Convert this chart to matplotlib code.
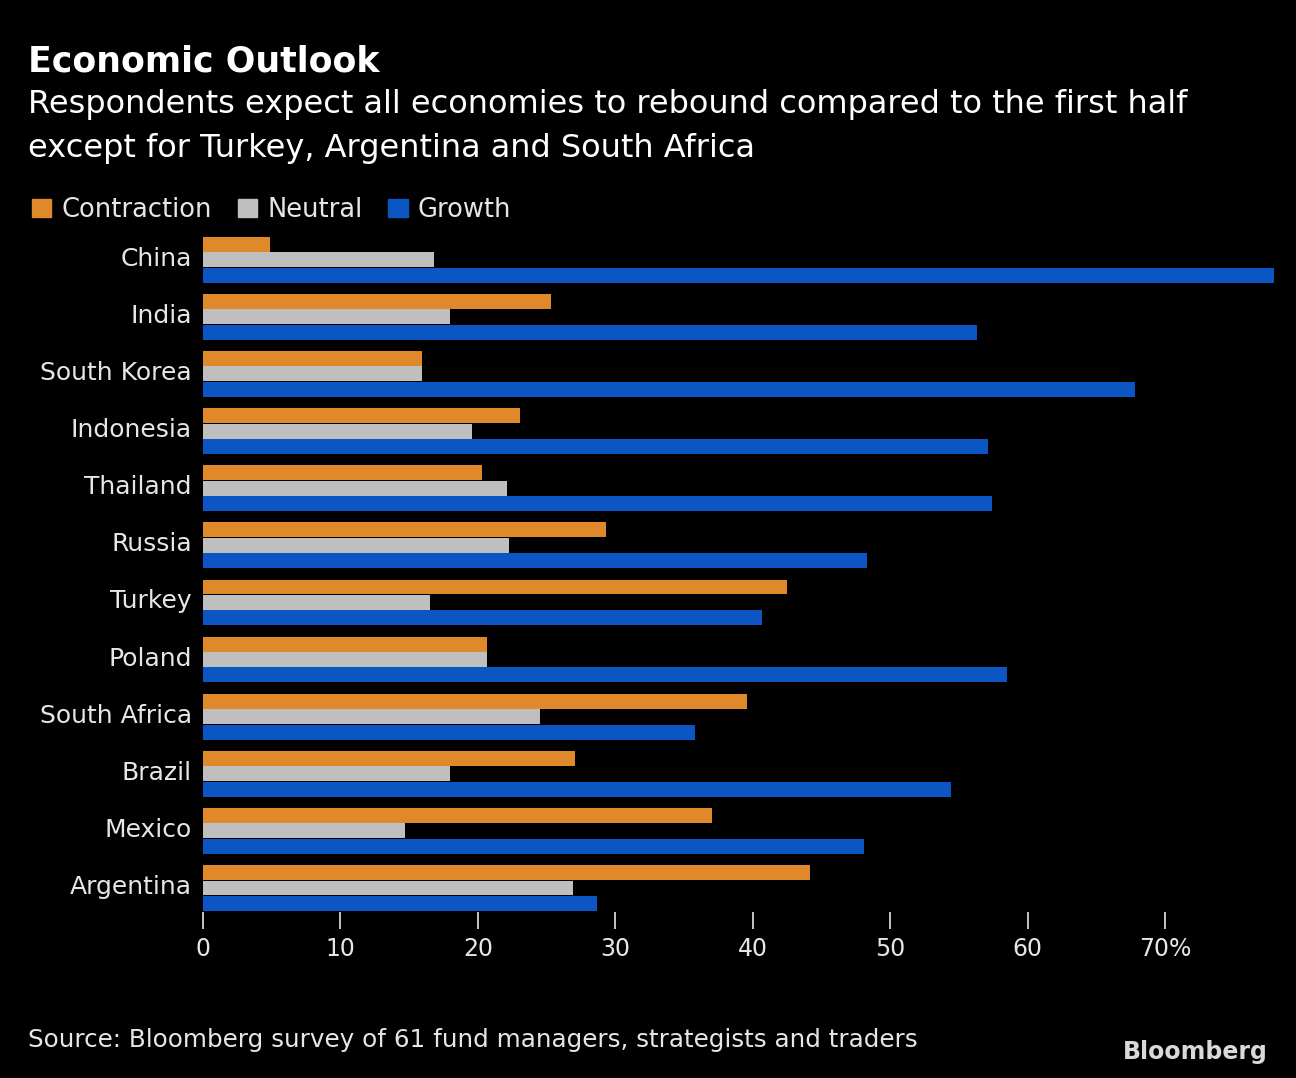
import numpy as np
import matplotlib.pyplot as plt
from matplotlib.patches import Patch

countries = ["China", "India", "South Korea", "Indonesia", "Thailand", "Russia",
             "Turkey", "Poland", "South Africa", "Brazil", "Mexico", "Argentina"]
contraction = [4.9, 25.3, 15.9, 23.1, 20.3, 29.3, 42.5, 20.7, 39.6, 27.1, 37.0, 44.2]
neutral = [16.8, 18.0, 15.9, 19.6, 22.1, 22.3, 16.5, 20.7, 24.5, 18.0, 14.7, 26.9]
growth = [77.9, 56.3, 67.8, 57.1, 57.4, 48.3, 40.7, 58.5, 35.8, 54.4, 48.1, 28.7]
xticks = [0, 10, 20, 30, 40, 50, 60, 70]
xtick_labels = ["0", "10", "20", "30", "40", "50", "60", "70%"]

c_orange = "#e0892b"
c_gray = "#bfbfbf"
c_blue = "#0b56c2"
fg = "#e6e6e6"

plt.rcParams['font.family'] = ['DejaVu Sans']

fig = plt.figure(figsize=(12.96, 10.78), dpi=100, facecolor="black")
ax = fig.add_axes([203 / 1296, 1 - 912 / 1078, (1275 - 203) / 1296, 678 / 1078])
ax.set_facecolor("black")

y = np.arange(len(countries))
h = 0.27
ax.barh(y - h, contraction, height=h * 0.97, color=c_orange)
ax.barh(y, neutral, height=h * 0.97, color=c_gray)
ax.barh(y + h, growth, height=h * 0.97, color=c_blue)

ax.set_xlim(0, 78)
ax.set_ylim(11.42, -0.45)
ax.set_yticks(y - 0.06)
ax.set_yticklabels(countries)
ax.set_xticks(xticks)
ax.set_xticklabels(xtick_labels)
ax.tick_params(axis="y", length=0, pad=8, labelsize=18, labelcolor=fg)
ax.tick_params(axis="x", length=12, width=1.2, color=fg, pad=6,
               labelsize=17, labelcolor=fg, direction="out")
for s in ax.spines.values():
    s.set_visible(False)

fig.text(28 / 1296, 1 - 62 / 1078, "Economic Outlook", color="white",
         fontsize=25, fontweight="bold", va="center", ha="left")
fig.text(28 / 1296, 1 - 105 / 1078,
         "Respondents expect all economies to rebound compared to the first half",
         color="white", fontsize=23, va="center", ha="left")
fig.text(28 / 1296, 1 - 148 / 1078,
         "except for Turkey, Argentina and South Africa",
         color="white", fontsize=23, va="center", ha="left")

handles = [Patch(color=c_orange), Patch(color=c_gray), Patch(color=c_blue)]
fig.legend(handles, ["Contraction", "Neutral", "Growth"], loc="center left",
           bbox_to_anchor=(9 / 1296, 1 - 210 / 1078), ncol=3, frameon=False,
           handlelength=0.75, handleheight=0.75, handletextpad=0.4,
           columnspacing=1.0, fontsize=18.5, labelcolor=fg)

fig.text(28 / 1296, 1 - 1040 / 1078,
         "Source: Bloomberg survey of 61 fund managers, strategists and traders",
         color=fg, fontsize=17.7, va="center", ha="left")
fig.text(1268 / 1296, 1 - 1052 / 1078, "Bloomberg", color="#d9d9d9",
         fontsize=17, fontweight="bold", va="center", ha="right")

fig.savefig("out.png", dpi=100, facecolor="black")
